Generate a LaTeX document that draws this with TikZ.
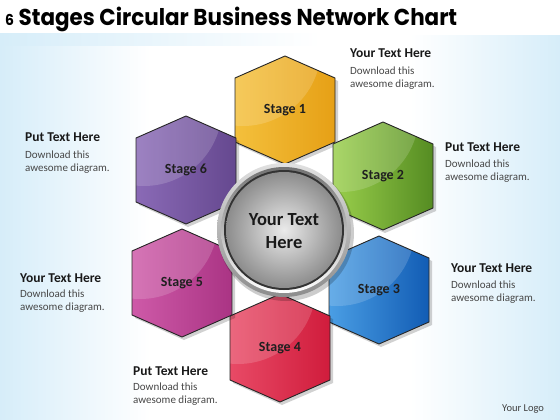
\documentclass[tikz,border=0pt]{standalone}
\usepackage{fontspec}
\usepackage{graphicx}
\setmainfont{Carlito}
\newfontfamily\titlefont{Poppins}
\usetikzlibrary{fadings}
\definecolor{bgblue}{HTML}{D6EDF9}
\definecolor{sa1}{HTML}{F4C03C}\definecolor{sb1}{HTML}{E6A016}
\definecolor{sa2}{HTML}{9ACF4C}\definecolor{sb2}{HTML}{558C22}
\definecolor{sa3}{HTML}{4A9EE4}\definecolor{sb3}{HTML}{125CB4}
\definecolor{sa4}{HTML}{E84A66}\definecolor{sb4}{HTML}{D01C3C}
\definecolor{sa5}{HTML}{CE5AA8}\definecolor{sb5}{HTML}{AA3484}
\definecolor{sa6}{HTML}{8A6AB6}\definecolor{sb6}{HTML}{65488F}
\tikzset{
  stagelbl/.style={font=\bfseries\fontsize{14}{16}\selectfont, text=black!88, inner sep=0},
  hubtext/.style={font=\bfseries\fontsize{18.5}{23}\selectfont, align=center, text=black!90, inner sep=0},
  headtxt/.style={font=\bfseries\fontsize{13.5}{15}\selectfont, anchor=base west, inner sep=0, text=black!90},
  bodytxt/.style={font=\fontsize{11}{13}\selectfont, anchor=base west, inner sep=0, align=left, text=black!72},
  hexborder/.style={draw=black!85, line width=0.9pt}
}
\begin{document}
\begin{tikzpicture}[x=1pt,y=-1pt]
\useasboundingbox (0,0) rectangle (560,420);
% background
\fill[white] (0,0) rectangle (560,420);
\shade[left color=bgblue, right color=white] (0,36) rectangle (150,420);
\shade[left color=white, right color=bgblue] (410,36) rectangle (560,420);
\shade[left color=bgblue, right color=white] (0,34) rectangle (320,46);
% title
\node[anchor=base west, inner sep=0] (title) at (5,26)
  {\resizebox{452pt}{\height}{\titlefont\bfseries\fontsize{23}{26}\selectfont {\fontsize{15}{15}\selectfont 6} Stages Circular Business Network Chart}};
% hexagons
\foreach \n/\x/\y/\lab in {1/285/110/Stage 1, 2/383/176/Stage 2, 3/379/290/Stage 3, 4/280/348/Stage 4, 5/182/283/Stage 5, 6/186/170/Stage 6} {
  \begin{scope}[shift={(\x,\y)}]
    \fill[black, opacity=0.18] (2,-51) -- (53,-29) -- (53,35) -- (2,57) -- (-47,35) -- (-47,-29) -- cycle;
    \shade[left color=sa\n, right color=sb\n] (0,-54) -- (50,-32) -- (50,32) -- (0,54) -- (-50,32) -- (-50,-32) -- cycle;
    \begin{scope}
      \clip (0,-54) -- (50,-32) -- (50,32) -- (0,54) -- (-50,32) -- (-50,-32) -- cycle;
      \fill[white, opacity=0.16] (-42,-62) circle (78);
    \end{scope}
    \draw[hexborder] (0,-54) -- (50,-32) -- (50,32) -- (0,54) -- (-50,32) -- (-50,-32) -- cycle;
  \end{scope}
  \node[stagelbl] (s\n) at (\x,\y) {\lab};
}
% hub
\fill[black, opacity=0.2] (286,233) circle (68);
\shade[top color=black!12, bottom color=black!45] (284,230) circle (67);
\shade[top color=black!55, bottom color=white] (284,230) circle (63);
\fill[black!80] (284,230) circle (60);
\shade[inner color=black!8, outer color=black!45] (284,230) circle (58);
\node[hubtext] (hub) at (284,231) {Your Text\\Here};
% texts
\node[headtxt] (t1h) at (350,58) {Your Text Here};
\node[bodytxt] (t1b) at (350,88) {Download this\\awesome diagram.};
\node[headtxt] (t2h) at (445,151) {Put Text Here};
\node[bodytxt] (t2b) at (445,180) {Download this\\awesome diagram.};
\node[headtxt] (t3h) at (451,272) {Your Text Here};
\node[bodytxt] (t3b) at (451,301) {Download this\\awesome diagram.};
\node[headtxt] (t4h) at (133,375) {Put Text Here};
\node[bodytxt] (t4b) at (133,403) {Download this\\awesome diagram.};
\node[headtxt] (t5h) at (20,282) {Your Text Here};
\node[bodytxt] (t5b) at (20,310) {Download this\\awesome diagram.};
\node[headtxt] (t6h) at (25,142) {Put Text Here};
\node[bodytxt] (t6b) at (25,171) {Download this\\awesome diagram.};
\node[anchor=base west, inner sep=0, font=\fontsize{10.5}{12}\selectfont, text=black!75] (logo) at (502,411) {Your Logo};
\end{tikzpicture}
\end{document}
